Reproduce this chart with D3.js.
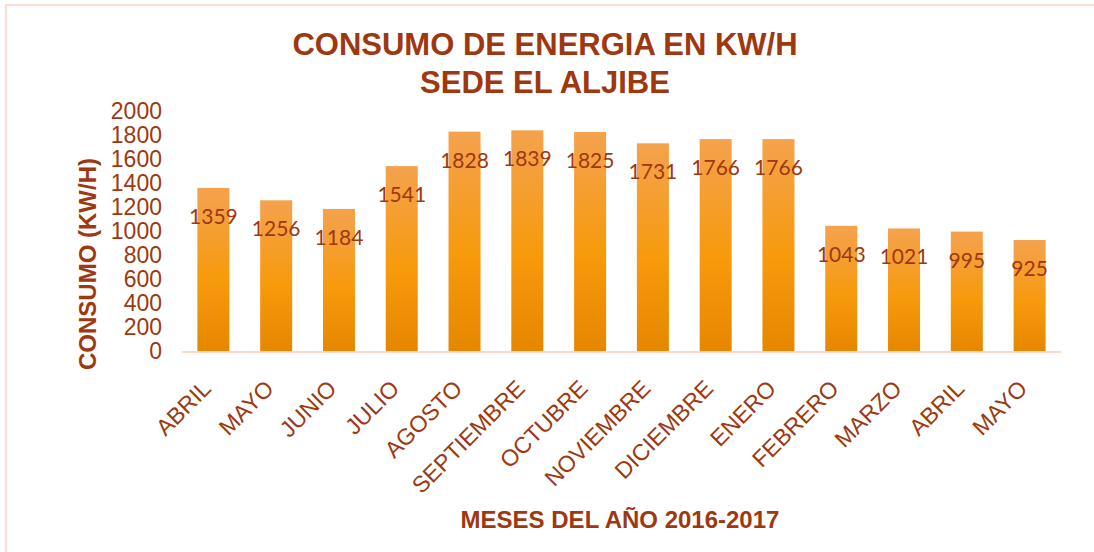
<!DOCTYPE html>
<html>
<head>
<meta charset="utf-8">
<script src="https://d3js.org/d3.v7.min.js"></script>
<style>
  body { margin: 0; background: #fff; }
  svg { display: block; }
</style>
</head>
<body>
<script>
// Monthly consumption, April 2016 - May 2017
const months = ['ABRIL', 'MAYO', 'JUNIO', 'JULIO', 'AGOSTO', 'SEPTIEMBRE', 'OCTUBRE',
  'NOVIEMBRE', 'DICIEMBRE', 'ENERO', 'FEBRERO', 'MARZO', 'ABRIL ', 'MAYO '];
const consumo = [1359, 1256, 1184, 1541, 1828, 1839, 1825, 1731, 1766, 1766, 1043, 1021, 995, 925];
const yTicks = [0, 200, 400, 600, 800, 1000, 1200, 1400, 1600, 1800, 2000];

const width = 1094;
const height = 552;
const textColor = '#9E3811';
const font = "'Liberation Sans', Arial, sans-serif";
const margin = { top: 111, right: 33, bottom: 201, left: 182 };

const svg = d3.select('body').append('svg')
  .attr('width', width)
  .attr('height', height);

// Gradient used by every bar
const grad = svg.append('defs').append('linearGradient')
  .attr('id', 'barFill')
  .attr('x1', 0).attr('y1', 0).attr('x2', 0).attr('y2', 1);
grad.append('stop').attr('offset', '0%').attr('stop-color', '#F4A24E');
grad.append('stop').attr('offset', '30%').attr('stop-color', '#F59E2C');
grad.append('stop').attr('offset', '55%').attr('stop-color', '#F79A0C');
grad.append('stop').attr('offset', '100%').attr('stop-color', '#E58800');

// outer frame (right/bottom edges fall outside the picture)
svg.append('rect')
  .attr('x', 6).attr('y', 5)
  .attr('width', width + 20).attr('height', height + 20)
  .attr('fill', 'none')
  .attr('stroke', '#FCDDD3')
  .attr('stroke-width', 2);

const x = d3.scaleBand()
  .domain(months)
  .range([margin.left, width - margin.right])
  .paddingInner(0.49)
  .paddingOuter(0.245);

const y = d3.scaleLinear()
  .domain([0, 2000])
  .range([height - margin.bottom, margin.top]);

// Title
const title = svg.append('text')
  .attr('text-anchor', 'middle')
  .style('font-family', font)
  .style('font-weight', 'bold')
  .style('font-size', '31px')
  .attr('fill', textColor);
title.append('tspan').attr('x', 545).attr('y', 55).text('CONSUMO DE ENERGIA EN KW/H');
title.append('tspan').attr('x', 545).attr('y', 93).text('SEDE EL ALJIBE');

// Y axis (labels only)
const yAxis = svg.append('g')
  .attr('transform', `translate(${margin.left - 20},0)`)
  .call(d3.axisLeft(y).tickValues(yTicks).tickFormat(d3.format('d')).tickSize(0).tickPadding(0));
yAxis.select('.domain').remove();
yAxis.selectAll('text')
  .attr('fill', textColor)
  .style('font-family', font)
  .style('font-size', '23px');

// Bars
svg.append('g')
  .selectAll('rect')
  .data(consumo)
  .join('rect')
  .attr('x', (d, i) => x(months[i]))
  .attr('y', d => y(d))
  .attr('width', x.bandwidth())
  .attr('height', d => y(0) - y(d))
  .attr('fill', 'url(#barFill)');

// Baseline
svg.append('line')
  .attr('x1', margin.left).attr('x2', width - margin.right)
  .attr('y1', y(0) + 1).attr('y2', y(0) + 1)
  .attr('stroke', '#F9D8CC')
  .attr('stroke-width', 2);

// Value labels
svg.append('g')
  .selectAll('text')
  .data(consumo)
  .join('text')
  .attr('x', (d, i) => x(months[i]) + x.bandwidth() / 2)
  .attr('y', d => y(d) + 36)
  .attr('text-anchor', 'middle')
  .attr('fill', textColor)
  .style('font-family', 'Lato, sans-serif')
  .style('font-size', '21px')
  .text(d => d);

// X axis labels, rotated
const xAxis = svg.append('g')
  .attr('transform', `translate(0,${y(0)})`)
  .call(d3.axisBottom(x).tickSize(0).tickFormat(d => d.trim()));
xAxis.select('.domain').remove();
xAxis.selectAll('text')
  .attr('fill', textColor)
  .style('font-family', font)
  .style('font-size', '23px')
  .attr('text-anchor', 'end')
  .attr('dy', null)
  .attr('y', 0)
  .attr('transform', 'translate(-1,39) rotate(-45)');

// Axis titles
svg.append('text')
  .attr('transform', 'translate(96,264) rotate(-90)')
  .attr('text-anchor', 'middle')
  .attr('fill', textColor)
  .style('font-family', font)
  .style('font-weight', 'bold')
  .style('font-size', '24px')
  .text('CONSUMO (KW/H)');

svg.append('text')
  .attr('x', 620)
  .attr('y', 528)
  .attr('text-anchor', 'middle')
  .attr('fill', textColor)
  .style('font-family', font)
  .style('font-weight', 'bold')
  .style('font-size', '24px')
  .text('MESES DEL AÑO 2016-2017');
</script>
</body>
</html>
